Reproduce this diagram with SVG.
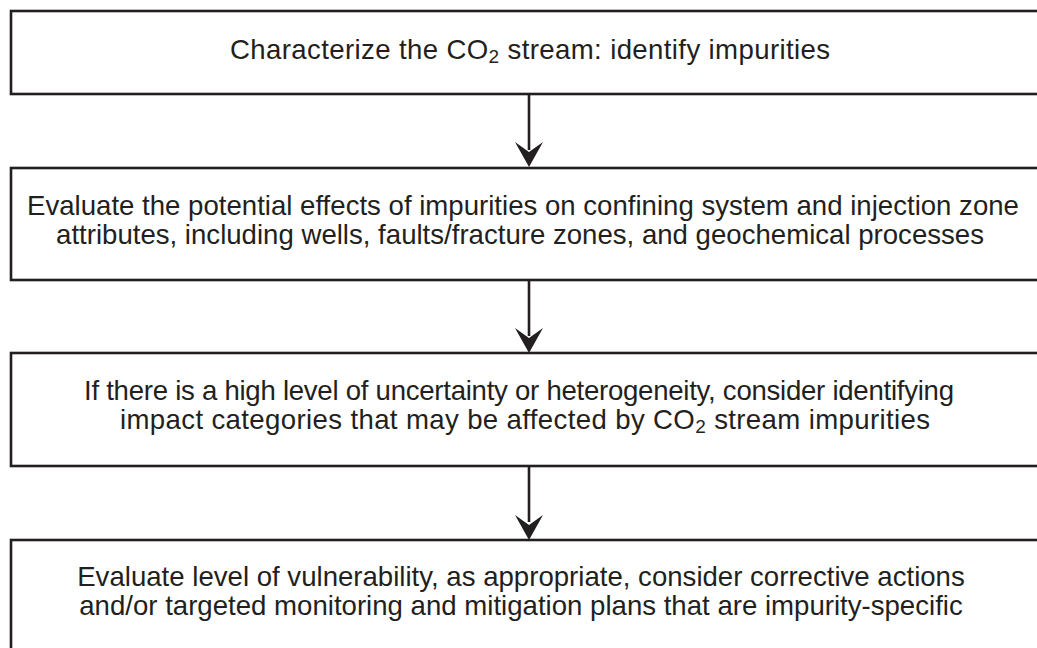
<svg xmlns="http://www.w3.org/2000/svg" width="1037" height="648" viewBox="0 0 1037 648">
  <defs>
    <style>
      .box { fill: #ffffff; stroke: #231f20; stroke-width: 2.6; }
      .txt { font-family: "Liberation Sans", Arial, sans-serif; font-size: 27.6px; fill: #231f20; text-anchor: middle; }
      .sub { font-size: 19px; }
      .conn { stroke: #231f20; stroke-width: 2.6; fill: none; }
      .head { fill: #231f20; stroke: none; }
    </style>
  </defs>
  <rect width="1037" height="648" fill="#ffffff"/>
  <g id="node1">
    <rect class="box" x="11" y="11" width="1040" height="83"/>
    <text class="txt" x="530" y="59" textLength="600" lengthAdjust="spacing">Characterize the CO<tspan class="sub" dy="4">2</tspan><tspan dy="-4"> stream: identify impurities</tspan></text>
  </g>
  <g id="node2">
    <rect class="box" x="11" y="168" width="1040" height="112"/>
    <text class="txt" x="523" y="215">Evaluate the potential effects of impurities on confining system and injection zone</text>
    <text class="txt" x="520" y="244">attributes, including wells, faults/fracture zones, and geochemical processes</text>
  </g>
  <g id="node3">
    <rect class="box" x="11" y="353" width="1040" height="113"/>
    <text class="txt" x="519" y="400" textLength="870" lengthAdjust="spacing">If there is a high level of uncertainty or heterogeneity, consider identifying</text>
    <text class="txt" x="525" y="429" textLength="810" lengthAdjust="spacing">impact categories that may be affected by CO<tspan class="sub" dy="4">2</tspan><tspan dy="-4"> stream impurities</tspan></text>
  </g>
  <g id="node4">
    <rect class="box" x="11" y="540" width="1040" height="130"/>
    <text class="txt" x="521" y="586">Evaluate level of vulnerability, as appropriate, consider corrective actions</text>
    <text class="txt" x="521" y="615">and/or targeted monitoring and mitigation plans that are impurity-specific</text>
  </g>
  <g id="connectors">
    <line class="conn" x1="529" y1="94" x2="529" y2="150"/>
    <path class="head" d="M529,167 L515,142 L529,152 L543,142 Z"/>
    <line class="conn" x1="529" y1="280" x2="529" y2="336"/>
    <path class="head" d="M529,353 L515,328 L529,338 L543,328 Z"/>
    <line class="conn" x1="529" y1="466" x2="529" y2="522"/>
    <path class="head" d="M529,540 L515,515 L529,525 L543,515 Z"/>
  </g>
</svg>
